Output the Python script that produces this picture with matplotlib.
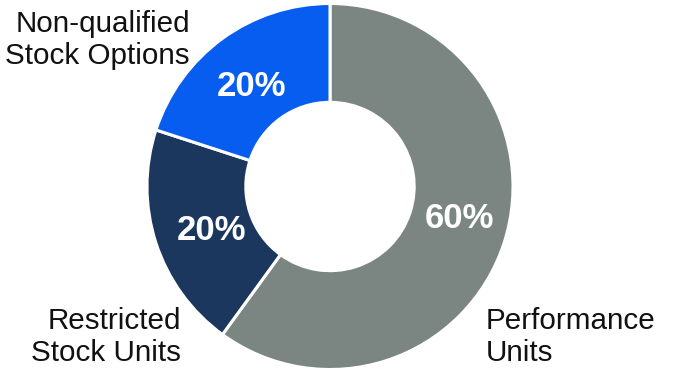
import matplotlib
matplotlib.use("Agg")
import matplotlib.pyplot as plt

# data (clockwise from 12 o'clock)
categories = ["Performance\nUnits", "Restricted\nStock Units", "Non-qualified\nStock Options"]
shares = [60, 20, 20]
pct_labels = ["60%", "20%", "20%"]
colors = ["#7b8683", "#1c375e", "#065def"]

plt.rcParams['font.family'] = ['Liberation Sans', 'DejaVu Sans']

W, H = 680, 373
fig = plt.figure(figsize=(W / 100, H / 100), dpi=100)
ax = fig.add_axes([0, 0, 1, 1])

cx, cy, r = 330, 186.5, 183
wedges, _ = ax.pie(shares, colors=colors, startangle=90, counterclock=False,
                   center=(cx, cy), radius=r,
                   wedgeprops=dict(width=r * 0.54, edgecolor="white", linewidth=2.2))

ax.set_xlim(0, W)
ax.set_ylim(0, H)
ax.set_aspect("equal")
ax.axis("off")

# percent labels inside the ring
pct_pos = [(459, H - 218), (211, H - 230), (252, H - 87)]
for (x, y), t in zip(pct_pos, pct_labels):
    ax.text(x, y, t, color="white", fontsize=25, fontweight="bold",
            ha="center", va="center")

# category labels
fs = 21.3
ls = 1.17
ax.text(486, H - 361, categories[0], fontsize=fs, ha="left", va="baseline",
        linespacing=ls, color="#111111")
ax.text(181, H - 361, categories[1], fontsize=fs, ha="right", va="baseline",
        linespacing=ls, color="#111111", multialignment="right")
ax.text(190, H - 64, categories[2], fontsize=fs, ha="right", va="baseline",
        linespacing=ls, color="#111111", multialignment="right")

plt.savefig("out.png", dpi=100)
